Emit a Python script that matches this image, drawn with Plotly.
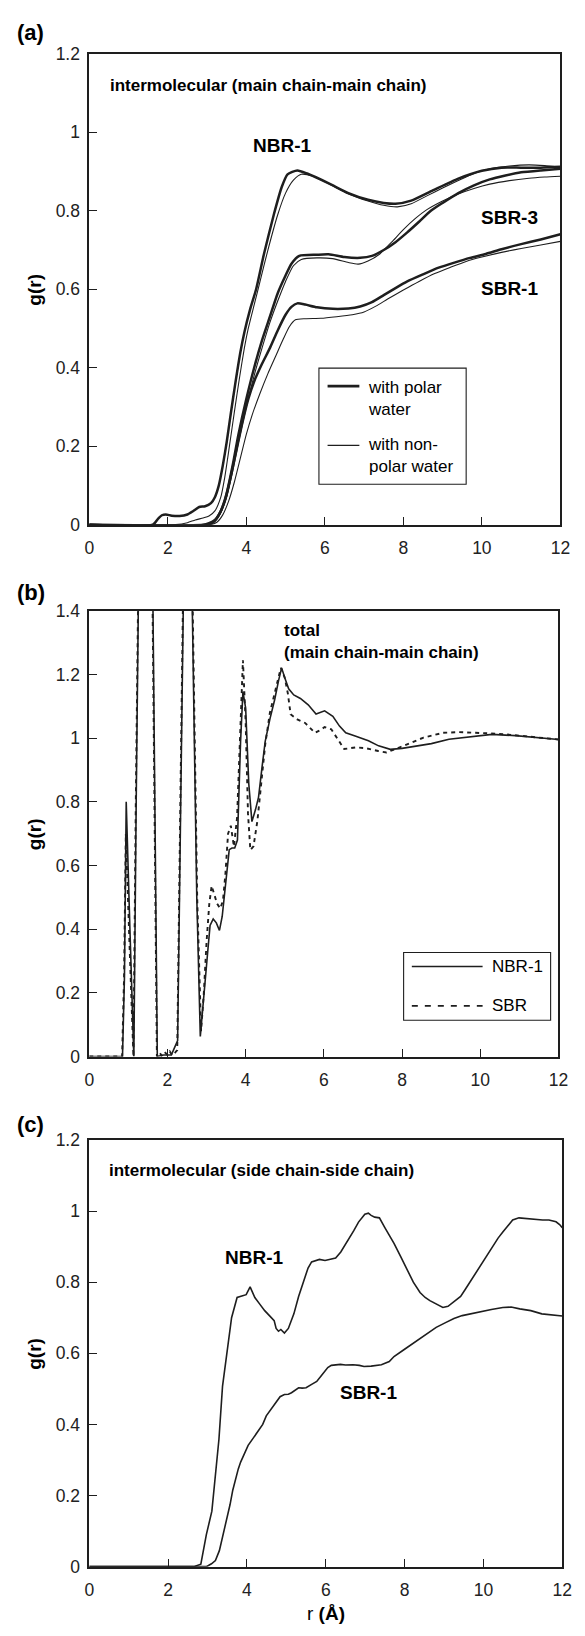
import plotly.graph_objects as go

# ---------------- Panel (a): intermolecular main chain-main chain ----------------
a_nbr_polar_r = [0, 1.62, 1.75, 1.85, 1.95, 2.1, 2.3, 2.5, 2.65, 2.8, 2.95, 3.1, 3.2, 3.3, 3.4, 3.5, 3.6, 3.72, 3.85, 3.95, 4.1, 4.25, 4.45, 4.7, 4.9, 5.05, 5.3, 5.55, 6.1, 6.6, 7.1, 7.5, 7.8, 8.2, 8.75, 9.4, 10.0, 10.5, 11.0, 11.5, 12]
a_nbr_polar_g = [0, 0, 0.015, 0.024, 0.026, 0.023, 0.022, 0.026, 0.035, 0.045, 0.047, 0.055, 0.07, 0.10, 0.15, 0.21, 0.28, 0.36, 0.44, 0.49, 0.55, 0.60, 0.69, 0.79, 0.86, 0.893, 0.903, 0.895, 0.87, 0.845, 0.828, 0.82, 0.818, 0.826, 0.852, 0.882, 0.902, 0.91, 0.91, 0.91, 0.912]

a_nbr_nonpolar_r = [0, 2.2, 2.5, 2.7, 2.9, 3.05, 3.2, 3.35, 3.45, 3.57, 3.7, 3.82, 3.95, 4.05, 4.2, 4.35, 4.55, 4.8, 5.0, 5.2, 5.4, 5.7, 6.1, 6.6, 7.1, 7.5, 7.85, 8.2, 8.6, 9.0, 9.4, 9.8, 10.2, 10.7, 11.2, 11.6, 12]
a_nbr_nonpolar_g = [0, 0, 0.005, 0.012, 0.017, 0.022, 0.035, 0.07, 0.12, 0.20, 0.29, 0.37, 0.45, 0.50, 0.56, 0.62, 0.70, 0.79, 0.845, 0.878, 0.893, 0.888, 0.869, 0.843, 0.825, 0.814, 0.81, 0.818, 0.838, 0.858, 0.877, 0.895, 0.907, 0.914, 0.917, 0.915, 0.911]

a_sbr3_polar_r = [0, 2.9, 3.05, 3.2, 3.35, 3.5, 3.65, 3.8, 4.0, 4.2, 4.4, 4.6, 4.8, 5.0, 5.15, 5.35, 5.8, 6.1, 6.5, 6.9, 7.2, 7.5, 7.8, 8.1, 8.4, 8.7, 9.0, 9.4, 9.8, 10.2, 10.6, 11.0, 11.5, 12]
a_sbr3_polar_g = [0, 0, 0.004, 0.012, 0.035, 0.08, 0.15, 0.23, 0.32, 0.40, 0.47, 0.53, 0.59, 0.635, 0.665, 0.685, 0.688, 0.689, 0.682, 0.68, 0.685, 0.70, 0.72, 0.745, 0.772, 0.80, 0.82, 0.845, 0.865, 0.88, 0.89, 0.898, 0.903, 0.907]

a_sbr3_nonpolar_r = [0, 3.05, 3.2, 3.35, 3.5, 3.65, 3.8, 4.0, 4.2, 4.4, 4.6, 4.8, 5.0, 5.2, 5.4, 5.8, 6.2, 6.6, 6.85, 7.1, 7.4, 7.7, 8.0, 8.3, 8.6, 9.0, 9.4, 9.8, 10.2, 10.7, 11.2, 11.6, 12]
a_sbr3_nonpolar_g = [0, 0, 0.008, 0.03, 0.07, 0.135, 0.21, 0.30, 0.38, 0.45, 0.515, 0.57, 0.62, 0.66, 0.676, 0.68, 0.678, 0.668, 0.664, 0.672, 0.69, 0.72, 0.752, 0.78, 0.803, 0.825, 0.843, 0.857, 0.868, 0.877, 0.883, 0.886, 0.888]

a_sbr1_polar_r = [0, 3.0, 3.15, 3.3, 3.45, 3.6, 3.75, 3.9, 4.05, 4.2, 4.4, 4.6, 4.8, 5.0, 5.15, 5.3, 5.5, 5.8, 6.2, 6.6, 6.9, 7.2, 7.5, 7.8, 8.1, 8.5, 8.9, 9.3, 9.7, 10.1, 10.5, 11.0, 11.5, 12]
a_sbr1_polar_g = [0, 0, 0.006, 0.025, 0.06, 0.12, 0.19, 0.26, 0.32, 0.365, 0.41, 0.45, 0.495, 0.535, 0.555, 0.564, 0.561, 0.554, 0.55, 0.551, 0.556, 0.567, 0.585, 0.603, 0.62, 0.638, 0.655, 0.668, 0.68, 0.69, 0.702, 0.715, 0.727, 0.74]

a_sbr1_nonpolar_r = [0, 3.1, 3.25, 3.4, 3.55, 3.7, 3.85, 4.0, 4.15, 4.35, 4.55, 4.75, 4.95, 5.1, 5.25, 5.5, 5.9, 6.3, 6.7, 7.0, 7.3, 7.6, 8.0, 8.4, 8.8, 9.2, 9.6, 10.0, 10.5, 11.0, 11.5, 12]
a_sbr1_nonpolar_g = [0, 0, 0.006, 0.025, 0.06, 0.11, 0.17, 0.23, 0.28, 0.335, 0.385, 0.43, 0.475, 0.505, 0.522, 0.525, 0.526, 0.53, 0.535, 0.542, 0.557, 0.575, 0.598, 0.62, 0.64, 0.656, 0.671, 0.682, 0.694, 0.704, 0.713, 0.722]

# ---------------- Panel (b): total main chain-main chain ----------------
b_nbr_r = [0, 0.85, 0.9, 0.945, 1.04, 1.14, 1.2, 1.45, 1.63, 1.74, 1.9, 2.1, 2.26, 2.34, 2.52, 2.63, 2.75, 2.84, 2.9, 2.96, 3.03, 3.09, 3.17, 3.25, 3.33, 3.4, 3.46, 3.52, 3.58, 3.65, 3.72, 3.79, 3.87, 3.93, 4.0, 4.08, 4.16, 4.25, 4.33, 4.42, 4.5, 4.62, 4.74, 4.84, 4.92, 5.0, 5.1, 5.23, 5.4, 5.6, 5.8, 6.02, 6.23, 6.4, 6.56, 6.8, 7.14, 7.4, 7.7, 8.0, 8.4, 8.75, 9.2, 9.7, 10.3, 10.9, 11.5, 12]
b_nbr_g = [0, 0, 0.25, 0.80, 0.4, 0.0, 0.8, 3.6, 1.4, 0.0, 0.005, 0.005, 0.05, 0.8, 2.5, 1.45, 0.5, 0.063, 0.14, 0.236, 0.33, 0.412, 0.432, 0.42, 0.396, 0.44, 0.515, 0.59, 0.65, 0.655, 0.655, 0.68, 0.99, 1.146, 1.095, 0.857, 0.738, 0.775, 0.815, 0.91, 0.99, 1.06, 1.12, 1.18, 1.221, 1.19, 1.155, 1.136, 1.125, 1.105, 1.076, 1.086, 1.069, 1.038, 1.017, 1.007, 0.992, 0.976, 0.965, 0.968, 0.976, 0.983, 0.997, 1.004, 1.012, 1.008, 1.002, 0.996]

b_sbr_r = [0, 0.84, 0.89, 0.935, 1.03, 1.13, 1.19, 1.45, 1.62, 1.73, 1.8, 1.85, 1.92, 2.0, 2.06, 2.12, 2.2, 2.25, 2.33, 2.51, 2.64, 2.76, 2.86, 2.93, 3.0, 3.07, 3.13, 3.2, 3.27, 3.35, 3.42, 3.48, 3.55, 3.62, 3.7, 3.78, 3.86, 3.93, 4.0, 4.06, 4.12, 4.2, 4.3, 4.4, 4.5, 4.62, 4.75, 4.9, 5.0, 5.08, 5.15, 5.32, 5.52, 5.65, 5.77, 5.9, 6.02, 6.19, 6.35, 6.52, 6.81, 7.06, 7.39, 7.6, 7.89, 8.22, 8.55, 9.05, 9.46, 9.88, 10.46, 11.0, 11.5, 12]
b_sbr_g = [0, 0, 0.25, 0.70, 0.35, 0.0, 0.8, 3.6, 1.4, 0.0, 0.012, 0.003, 0.015, 0.005, 0.016, 0.004, 0.013, 0.02, 0.8, 2.5, 1.45, 0.5, 0.08, 0.2, 0.36, 0.48, 0.536, 0.51, 0.48, 0.465, 0.49, 0.57, 0.70, 0.725, 0.66, 0.75, 1.05, 1.245, 1.05, 0.763, 0.649, 0.66, 0.74, 0.86, 0.98, 1.08, 1.15, 1.221, 1.19, 1.14, 1.075, 1.059, 1.048, 1.031, 1.017, 1.025, 1.035, 1.028, 0.997, 0.966, 0.971, 0.969, 0.96, 0.955, 0.969, 0.986, 1.002, 1.017, 1.019, 1.017, 1.014, 1.008, 1.002, 0.996]

# ---------------- Panel (c): intermolecular side chain-side chain ----------------
c_nbr_r = [0, 2.65, 2.83, 2.97, 3.11, 3.2, 3.29, 3.38, 3.49, 3.61, 3.75, 3.87, 3.98, 4.08, 4.2, 4.32, 4.45, 4.57, 4.69, 4.74, 4.8, 4.86, 4.95, 5.05, 5.19, 5.31, 5.43, 5.55, 5.64, 5.75, 5.84, 5.98, 6.1, 6.25, 6.38, 6.5, 6.6, 6.71, 6.83, 6.92, 6.99, 7.08, 7.15, 7.24, 7.36, 7.49, 7.61, 7.73, 7.9, 8.06, 8.22, 8.39, 8.52, 8.64, 8.8, 8.97, 9.1, 9.29, 9.42, 9.54, 9.7, 9.87, 10.04, 10.2, 10.37, 10.49, 10.62, 10.74, 10.9, 11.05, 11.2, 11.35, 11.5, 11.66, 11.84, 11.93, 12]
c_nbr_g = [0, 0, 0.007, 0.09, 0.156, 0.248, 0.359, 0.507, 0.60, 0.70, 0.757, 0.762, 0.765, 0.787, 0.757, 0.739, 0.72, 0.706, 0.692, 0.67, 0.662, 0.667, 0.657, 0.67, 0.711, 0.76, 0.80, 0.84, 0.857, 0.862, 0.864, 0.861, 0.864, 0.868, 0.885, 0.906, 0.925, 0.945, 0.969, 0.982, 0.991, 0.994, 0.988, 0.983, 0.981, 0.955, 0.932, 0.909, 0.872, 0.835, 0.80, 0.771, 0.757, 0.748, 0.738, 0.729, 0.732, 0.748, 0.76, 0.78, 0.808, 0.835, 0.865, 0.895, 0.924, 0.941, 0.96, 0.975, 0.981, 0.979, 0.977, 0.975, 0.975, 0.975, 0.97, 0.962, 0.953]

c_sbr_r = [0, 2.97, 3.1, 3.2, 3.3, 3.38, 3.47, 3.57, 3.64, 3.71, 3.78, 3.84, 3.93, 4.03, 4.15, 4.3, 4.4, 4.49, 4.6, 4.72, 4.84, 4.95, 5.05, 5.13, 5.22, 5.31, 5.4, 5.5, 5.63, 5.77, 5.87, 5.96, 6.05, 6.14, 6.25, 6.37, 6.5, 6.69, 6.85, 6.97, 7.15, 7.34, 7.41, 7.61, 7.73, 7.98, 8.15, 8.35, 8.56, 8.8, 9.05, 9.25, 9.46, 9.7, 9.95, 10.2, 10.49, 10.7, 10.92, 11.2, 11.48, 11.75, 12]
c_sbr_g = [0, 0, 0.008, 0.017, 0.045, 0.081, 0.13, 0.174, 0.215, 0.248, 0.275, 0.294, 0.318, 0.341, 0.36, 0.382, 0.40, 0.424, 0.44, 0.461, 0.478, 0.484, 0.485, 0.489, 0.497, 0.503, 0.502, 0.503, 0.512, 0.521, 0.535, 0.549, 0.56, 0.566, 0.568, 0.569, 0.567, 0.568, 0.566, 0.563, 0.564, 0.566, 0.568, 0.577, 0.591, 0.610, 0.623, 0.638, 0.655, 0.673, 0.687, 0.698, 0.706, 0.712, 0.718, 0.723, 0.729, 0.73, 0.725, 0.72, 0.711, 0.708, 0.705]

# ticks
x_ticks = [0, 2, 4, 6, 8, 10, 12]
y_ticks_a = [0, 0.2, 0.4, 0.6, 0.8, 1.0, 1.2]
y_ticks_b = [0, 0.2, 0.4, 0.6, 0.8, 1.0, 1.2, 1.4]
y_ticks_c = [0, 0.2, 0.4, 0.6, 0.8, 1.0, 1.2]

# The page body has an 8px default margin, so the figure is sized to fit the window
OX, OY = 8, 8
W, H = 577, 1620
FONT = "Liberation Sans, Arial, Helvetica, sans-serif"
INK = "#1e1e1e"

def px_x(p):
    return (p - OX) / W

def px_y(p):
    return 1 - (p - OY) / H

fig = go.Figure()

def add_line(x, y, xa, ya, width, dash="solid", shape="linear"):
    fig.add_trace(go.Scatter(x=x, y=y, xaxis=xa, yaxis=ya, mode="lines",
                             line=dict(color=INK, width=width, dash=dash, shape=shape, smoothing=0.6),
                             showlegend=False, hoverinfo="skip"))

# panel a
for r, g, w in [(a_nbr_nonpolar_r, a_nbr_nonpolar_g, 1.1),
                (a_sbr3_nonpolar_r, a_sbr3_nonpolar_g, 1.1),
                (a_sbr1_nonpolar_r, a_sbr1_nonpolar_g, 1.1),
                (a_nbr_polar_r, a_nbr_polar_g, 2.5),
                (a_sbr3_polar_r, a_sbr3_polar_g, 2.5),
                (a_sbr1_polar_r, a_sbr1_polar_g, 2.5)]:
    add_line(r, g, "x", "y", w, shape="spline")

# panel b
add_line(b_sbr_r, b_sbr_g, "x2", "y2", 1.9, dash="4px,4px")
add_line(b_nbr_r, b_nbr_g, "x2", "y2", 1.6)

# panel c
add_line(c_nbr_r, c_nbr_g, "x3", "y3", 1.6)
add_line(c_sbr_r, c_sbr_g, "x3", "y3", 1.6)

left = 86.3
panels = [
    ("xaxis", "yaxis", 570, 44.3, 521.0, [0, 1.2], y_ticks_a),
    ("xaxis2", "yaxis2", 568, 608.3, 1059.5, [0, 1.4], y_ticks_b),
    ("xaxis3", "yaxis3", 572, 1144.0, 1576.0, [0, 1.2], y_ticks_c),
]

def fmt(v):
    return "0" if v == 0 else ("1" if v == 1 else f"{v:g}")

TICKFONT = dict(size=17.5, family=FONT, color="#222")
layout = dict(width=W, height=H, margin=dict(l=0, r=0, t=0, b=0),
              paper_bgcolor="white", plot_bgcolor="white",
              font=dict(family=FONT, color="black", size=16), showlegend=False)

for i, (xk, yk, right, top, bottom, yr, yt) in enumerate(panels):
    suffix = "" if i == 0 else str(i + 1)
    layout[xk] = dict(domain=[px_x(left), px_x(right)], range=[0, 12], anchor="y" + suffix,
                      tickvals=x_ticks, ticktext=[str(v) for v in x_ticks],
                      ticks="inside", ticklen=8, tickwidth=1.3, tickcolor=INK,
                      showline=True, linecolor=INK, linewidth=1.6, mirror=True,
                      showgrid=False, zeroline=False, ticklabelstandoff=7,
                      tickfont=TICKFONT)
    layout[yk] = dict(domain=[px_y(bottom), px_y(top)], range=yr, anchor="x" + suffix,
                      tickvals=yt, ticktext=[fmt(v) for v in yt],
                      ticks="inside", ticklen=8, tickwidth=1.3, tickcolor=INK,
                      showline=True, linecolor=INK, linewidth=1.6, mirror=True,
                      showgrid=False, zeroline=False, ticklabelstandoff=4,
                      tickfont=TICKFONT)

fig.update_layout(**layout)

ann = []
def text(x, y, s, xref, yref, size=17, bold=True, xanchor="center", yanchor="middle", align="center", angle=0):
    ann.append(dict(x=x, y=y, xref=xref, yref=yref, text=(f"<b>{s}</b>" if bold else s),
                    showarrow=False, xanchor=xanchor, yanchor=yanchor, align=align, textangle=angle,
                    font=dict(family=FONT, size=size, color="black")))

# panel labels and axis titles (paper coords)
for lbl, ypx in [("(a)", 23), ("(b)", 590), ("(c)", 1128)]:
    text(px_x(26), px_y(ypx), lbl, "paper", "paper", size=22)
for top, bottom in [(44.3, 521.0), (608.3, 1059.5), (1144.0, 1576.0)]:
    text(px_x(30), px_y((top + bottom) / 2), "g(r)", "paper", "paper", size=19, angle=-90)
text(px_x((left + 572) / 2), px_y(1623), "r <b>(Å)</b>", "paper", "paper", size=19, bold=False)

# panel a annotations
text(0.48, 1.12, "intermolecular (main chain-main chain)", "x", "y", size=17, xanchor="left")
text(4.92, 0.967, "NBR-1", "x", "y", size=19)
text(10.7, 0.783, "SBR-3", "x", "y", size=19)
text(10.7, 0.602, "SBR-1", "x", "y", size=19)
text(7.05, 0.322, "with polar<br>water", "x", "y", size=17, bold=False, xanchor="left", align="left")
text(7.05, 0.176, "with non-<br>polar water", "x", "y", size=17, bold=False, xanchor="left", align="left")

# panel b annotations
text(4.92, 1.304, "total<br>(main chain-main chain)", "x2", "y2", size=17, xanchor="left", align="left")
text(10.25, 0.283, "NBR-1", "x2", "y2", size=17, bold=False, xanchor="left")
text(10.25, 0.159, "SBR", "x2", "y2", size=17, bold=False, xanchor="left")

# panel c annotations
text(0.45, 1.114, "intermolecular (side chain-side chain)", "x3", "y3", size=17, xanchor="left")
text(4.18, 0.869, "NBR-1", "x3", "y3", size=19)
text(7.09, 0.489, "SBR-1", "x3", "y3", size=19)

shapes = [
    # legend a
    dict(type="rect", xref="x", yref="y", x0=5.85, x1=9.6, y0=0.103, y1=0.399,
         line=dict(color=INK, width=1.1), fillcolor="white", layer="above"),
    dict(type="line", xref="x", yref="y", x0=6.07, x1=6.88, y0=0.353, y1=0.353,
         line=dict(color=INK, width=2.6)),
    dict(type="line", xref="x", yref="y", x0=6.07, x1=6.88, y0=0.202, y1=0.202,
         line=dict(color=INK, width=1.1)),
    # legend b
    dict(type="rect", xref="x2", yref="y2", x0=8.04, x1=11.80, y0=0.114, y1=0.327,
         line=dict(color=INK, width=1.1), fillcolor="white", layer="above"),
    dict(type="line", xref="x2", yref="y2", x0=8.25, x1=10.06, y0=0.283, y1=0.283,
         line=dict(color=INK, width=1.6)),
    dict(type="line", xref="x2", yref="y2", x0=8.25, x1=10.06, y0=0.159, y1=0.159,
         line=dict(color=INK, width=1.9, dash="6px,7px")),
]

fig.update_layout(annotations=ann, shapes=shapes)
fig.write_html("out.html")
